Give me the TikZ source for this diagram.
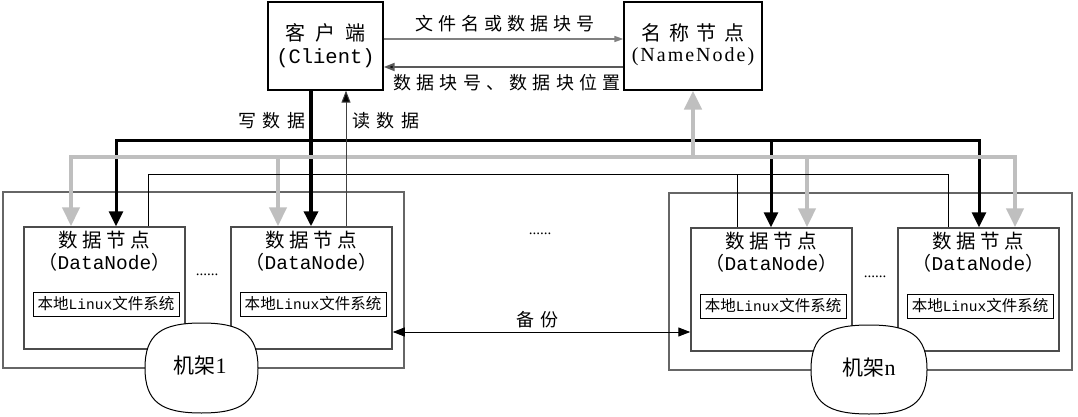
\documentclass[tikz,border=0pt]{standalone}
\usepackage{fontspec}
\setmainfont{Liberation Serif}
\newfontfamily\cjk{Noto Sans CJK SC}
\newfontfamily\mono{Liberation Mono}
\usetikzlibrary{arrows.meta}
\ExplSyntaxOn
\NewDocumentCommand\spc{mm}{\tl_map_inline:nn{#2}{##1\hspace{#1}}\unskip}
\ExplSyntaxOff
\newcommand\fs[1]{\fontsize{#1}{#1}\selectfont}
\begin{document}
\begin{tikzpicture}[x=1pt,y=-1pt,
  topbox/.style={draw, line width=1.3pt, inner sep=0pt, minimum height=88pt},
  dnbox/.style={draw=black!70, line width=1.5pt, inner sep=0pt, minimum width=161pt, minimum height=122pt},
  rackbox/.style={draw=black!60, line width=1.5pt, inner sep=0pt},
  fsbox/.style={draw, line width=1pt, inner sep=0pt, minimum width=146pt, minimum height=24pt},
  lbl/.style={inner sep=0pt},
  cn/.style={lbl, font=\cjk\fs{18}},
  dncn/.style={lbl, font=\cjk\fs{19.5}},
  bknet/.style={line width=3pt, black},
  grnet/.style={line width=4.5pt, color=black!25},
  thnet/.style={line width=1pt, black},
  bktip/.style={-{Triangle[width=14pt,length=15pt]}},
  bktips/.style={{Triangle[width=14pt,length=15pt]}-{Triangle[width=14pt,length=15pt]}},
  grtip/.style={-{Triangle[width=17pt,length=19pt]}},
  grtips/.style={{Triangle[width=17pt,length=19pt]}-{Triangle[width=17pt,length=19pt]}},
  racklbl/.style={draw, line width=1pt, fill=white},
  dots/.style={lbl, font=\fs{15}}
]
\useasboundingbox (0,0) rectangle (1078,417);

% top boxes
\node[topbox, minimum width=115pt] (client) at (325.5,46) {};
\node[topbox, minimum width=138pt] (namenode) at (693,46) {};
\node[lbl, font=\cjk\fs{20}] (clientcn) at (325.5,33) {\spc{10pt}{客户端}};
\node[lbl, font=\mono\fs{20.5}] (clienten) at (325.5,58) {(Client)};
\node[lbl, font=\cjk\fs{20}] (nncn) at (693,33) {\spc{7.5pt}{名称节点}};
\node[lbl, font=\fs{20}] (nnen) at (693,57) {\spc{2pt}{(NameNode)}};

% client <-> namenode
\coordinate (ya) at (0,39);
\coordinate (yb) at (0,67);
\draw[line width=1.5pt, black!50, -{Triangle[width=6pt,length=9pt]}] (client.east |- ya) -- (namenode.west |- ya);
\draw[line width=2pt, black!65, -{Triangle[width=8pt,length=11pt,fill=black]}] (namenode.west |- yb) -- (client.east |- yb);
\node[cn] (lab1) at (505,24) {\spc{5pt}{文件名或数据块号}};
\node[cn] (lab2) at (507,83) {\spc{5.3pt}{数据块号、数据块位置}};

% racks
\node[rackbox, minimum width=401pt, minimum height=176pt] (rack1box) at (203.5,280) {};
\node[rackbox, minimum width=403pt, minimum height=177pt] (racknbox) at (870.5,281.5) {};

% datanodes
\node[dnbox] (dn1) at (104.5,288) {};
\node[dnbox] (dn2) at (311.5,288) {};
\node[dnbox, minimum height=123pt] (dn3) at (771.5,289.5) {};
\node[dnbox, minimum height=123pt] (dn4) at (978.5,289.5) {};

\foreach \n/\x/\ya/\yb/\yc in {1/104.5/240/262/304, 2/311.5/240/262/304, 3/771.5/241/263/306, 4/978.5/241/263/306}{
  \node[dncn] (dn\n cn) at (\x,\ya) {\spc{4.5pt}{数据节点}};
  \node[lbl] (dn\n en) at (\x,\yb) {{\cjk\fs{19}（}{\mono\fs{19.5}DataNode}{\cjk\fs{19}）}};
  \node[fsbox] (fs\n) at (\x+1.5,\yc) {{\cjk\fs{15.5}本地}{\mono\fs{14.5}Linux}{\cjk\fs{15.5}文件系统}};
}

\node[dots] (e1) at (207,275) {......};
\node[dots] (e2) at (540,234) {......};
\node[dots] (e3) at (875,277) {......};

% black (write) network
\draw[bknet, bktips] (dn1.north -| 116,0) |- (979,140) -- (dn4.north -| 979,0);
\draw[bknet, bktip] (771,140) -- (dn3.north -| 771,0);
\draw[line width=3.5pt, black, bktip] (client.south -| 311,0) -- (dn2.north -| 311,0);
\node[cn] (wlab) at (272,121) {\spc{7pt}{写数据}};

% gray network
\draw[grnet, grtips] (dn1.north -| 71,0) |- (1015,157) -- (dn4.north -| 1015,0);
\draw[grnet, grtip] (278,157) -- (dn2.north -| 278,0);
\draw[grnet, grtip] (807,157) -- (dn3.north -| 807,0);
\draw[grnet, grtip] (693,157) -- (namenode.south);

% thin network
\draw[thnet] (dn1.north -| 148,0) |- (948,174) -- (dn4.north -| 948,0);
\draw[thnet] (737,174) -- (dn3.north -| 737,0);

% read
\draw[line width=1pt, black!75, -{Triangle[width=9pt,length=12pt,fill=black]}] (dn2.north -| 346,0) -- (client.south -| 346,0);
\node[cn] (rlab) at (386,121) {\spc{7pt}{读数据}};

% backup
\coordinate (yk) at (0,332);
\draw[line width=1pt, black, {Triangle[width=9pt,length=12pt]}-{Triangle[width=9pt,length=12pt]}] (dn2.east |- yk) -- (dn3.west |- yk);
\node[cn] (bk) at (537,320) {\spc{6pt}{备份}};

% rack labels
\draw[racklbl, shift={(201.5,368)}] (-56.5,0) .. controls (-56.5,-34) and (-40,-45) .. (0,-45) .. controls (40,-45) and (56.5,-34) .. (56.5,0) .. controls (56.5,34) and (40,45) .. (0,45) .. controls (-40,45) and (-56.5,34) .. (-56.5,0) -- cycle;
\node[lbl] (rack1) at (200,366) {{\cjk\fs{21}机架}{\fs{22}1}};
\draw[racklbl, shift={(869,369.5)}] (-58,0) .. controls (-58,-34) and (-41,-44.5) .. (0,-44.5) .. controls (41,-44.5) and (58,-34) .. (58,0) .. controls (58,34) and (41,44.5) .. (0,44.5) .. controls (-41,44.5) and (-58,34) .. (-58,0) -- cycle;
\node[lbl] (rackn) at (869,368) {{\cjk\fs{21}机架}{\fs{22}n}};
\end{tikzpicture}
\end{document}
